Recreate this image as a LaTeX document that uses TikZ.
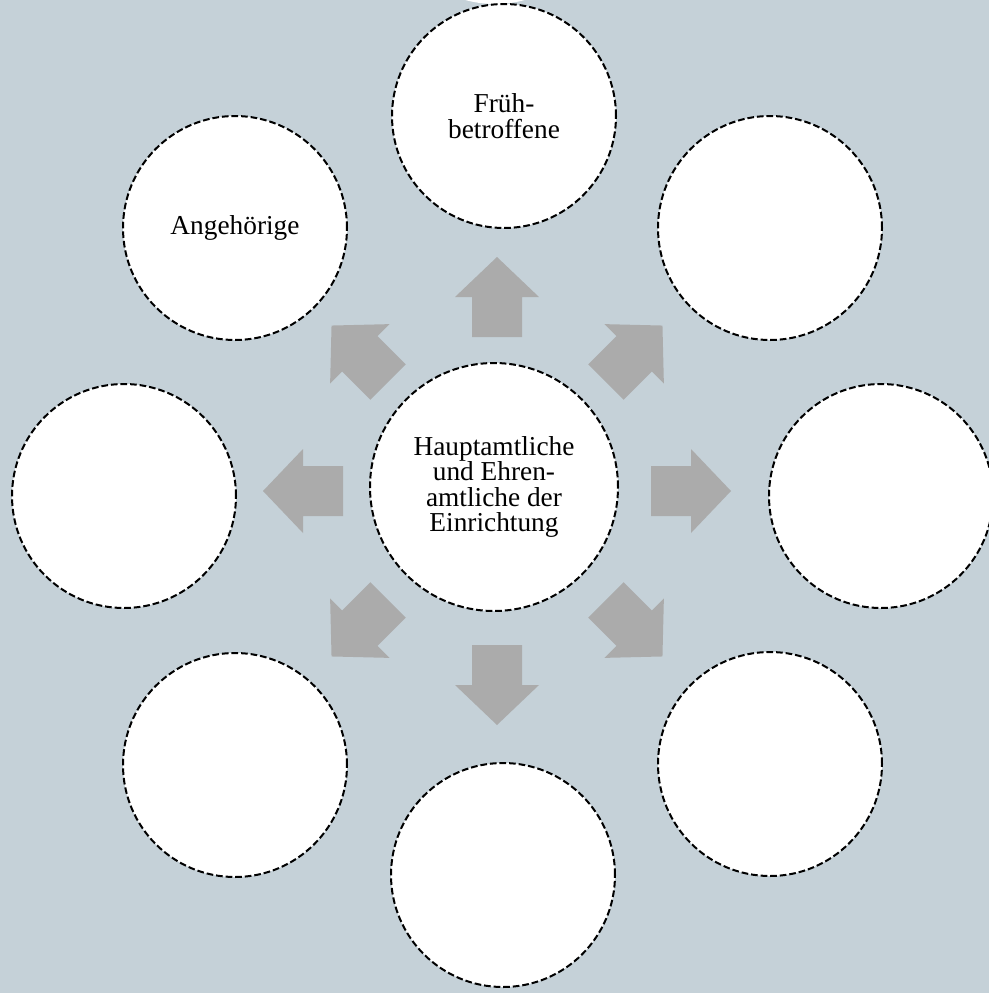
\documentclass[tikz,border=0pt]{standalone}
\usepackage{fontspec}
\setmainfont{Liberation Serif}
\usepackage{xcolor}
\usepackage{tikz}
\usetikzlibrary{positioning}
\definecolor{cBack}{HTML}{C5D1D8}
\definecolor{cArrow}{HTML}{ABABAB}
\tikzset{
  ring/.style ={draw=black, fill=white, circle, inner sep=0pt, minimum size=168pt,
                line width=1.5pt, dash pattern=on 5pt off 2.2pt, align=center,
                font=\fontsize{20.5pt}{19pt}\selectfont},
  hub/.style  ={ring, minimum size=186pt},
  blockarrow/.style={fill=cArrow},
}

\begin{document}
\begin{tikzpicture}[x=0.75pt,y=-0.75pt]
        \useasboundingbox (0,0) rectangle (989,993);
        \fill[cBack] (0,0) rectangle (989,993);
        % piece of a shape cut off at the top edge
        \begin{scope}
          \clip (0,0) rectangle (989,993);
          \fill[white] (495,-108) circle[radius=112];
        \end{scope}
        % block arrows round the hub
        \foreach \ang in {0,45,...,315}
          \fill[blockarrow, shift={(497,491)}, rotate=\ang]
            (154,-25) -- (194,-25) -- (194,-42) -- (234,0) -- (194,42) -- (194,25) -- (154,25) -- cycle;
        \node[hub] (hub) at (494,487){Hauptamtliche\\und Ehren-\\amtliche der\\Einrichtung};
        \node[ring] (top) at (504,116){Früh-\\betroffene};
        \node[ring] (topright) at (770,228){};
        \node[ring] (right) at (881,496){};
        \node[ring] (botright) at (770,764){};
        \node[ring] (bot) at (503,875){};
        \node[ring] (botleft) at (235,765){};
        \node[ring] (left) at (124,496){};
        \node[ring] (topleft) at (235,228){Angehörige};
      \end{tikzpicture}
\end{document}
